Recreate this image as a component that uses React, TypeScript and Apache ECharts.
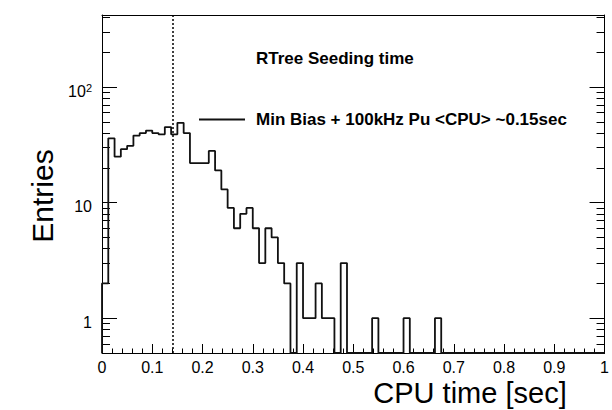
import React, { useEffect, useRef } from 'react';
import * as echarts from 'echarts';

// Histogram: 80 bins of 0.0125 sec on [0, 1]
const BIN_WIDTH = 0.0125;
const COUNTS = [
  2, 36, 25, 29, 31, 38, 40, 42, 40, 39,
  45, 39, 49, 40, 22, 22, 22, 28, 19, 13,
  9, 6, 8, 9, 6, 3, 6, 5, 3, 2,
  0, 3, 1, 1, 2, 1, 1, 0, 3, 0,
  0, 0, 0, 1, 0, 0, 0, 0, 1, 0,
  0, 0, 0, 1, 0, 0, 0, 0, 0, 0,
  0, 0, 0, 0, 0, 0, 0, 0, 0, 0,
  0, 0, 0, 0, 0, 0, 0, 0, 0, 0,
];
const MEAN_MARK = 0.142;
const Y_MIN = 0.5;
const Y_MAX = 420;
const Y_MAJOR = [1, 10, 100];
const Y_MINOR = [0.6, 0.7, 0.8, 0.9, 2, 3, 4, 5, 6, 7, 8, 9, 20, 30, 40, 50, 60, 70, 80, 90, 200, 300, 400];
const TITLE = 'RTree Seeding time';
const SERIES_NAME = 'Min Bias + 100kHz Pu <CPU> ~0.15sec';
const X_NAME = 'CPU time [sec]';
const Y_NAME = 'Entries';

const FONT = '"Liberation Sans", Arial, Helvetica, sans-serif';

export default function App() {
  const ref = useRef<HTMLDivElement>(null);
  useEffect(() => {
    document.body.style.margin = '0';
    const chart = echarts.init(ref.current!, null, { renderer: 'svg' });
    const hist: [number, number][] = [[0, Y_MIN]];
    COUNTS.forEach((c, i) => hist.push([i * BIN_WIDTH, c > 0 ? c : Y_MIN]));
    const last = COUNTS[COUNTS.length - 1];
    hist.push([COUNTS.length * BIN_WIDTH, last > 0 ? last : Y_MIN]);

    const yBase = (pos: 'left' | 'right', values: number[], len: number, labels: boolean, line: boolean) => ({
      type: 'log',
      logBase: 10,
      min: Y_MIN,
      max: Y_MAX,
      position: pos,
      axisLine: { show: line, onZero: false, lineStyle: { color: '#000', width: 1 } },
      axisTick: { show: true, inside: true, length: len, customValues: values, lineStyle: { color: '#000', width: 1 } },
      axisLabel: labels
        ? {
            show: true,
            customValues: values,
            margin: 10,
            color: '#000',
            fontFamily: FONT,
            fontSize: 16,
            padding: [8, 0, 0, 0],
            formatter: (v: number) => {
              const e = Math.round(Math.log10(v));
              return e >= 2 ? '{a|10}{s|' + e + '}' : '{a|' + Math.round(v) + '}';
            },
            rich: {
              a: { fontFamily: FONT, fontSize: 16, color: '#000', lineHeight: 18 },
              s: { fontFamily: FONT, fontSize: 11, color: '#000', verticalAlign: 'top', lineHeight: 18, padding: [0, 0, 6, 0] },
            },
          }
        : { show: false },
      splitLine: { show: false },
      minorTick: { show: false },
      minorSplitLine: { show: false },
    });

    chart.setOption({
      animation: false,
      backgroundColor: '#fff',
      grid: { left: 102, right: 6, top: 15, bottom: 57 },
      title: {
        text: TITLE,
        left: 256,
        top: 50,
        padding: 0,
        textStyle: { fontFamily: FONT, fontWeight: 'bold', fontSize: 17, color: '#000' },
      },
      legend: {
        data: [SERIES_NAME],
        left: 199,
        top: 111,
        padding: 0,
        itemWidth: 46,
        itemHeight: 2,
        icon: 'rect',
        textStyle: { fontFamily: FONT, fontWeight: 'bold', fontSize: 17, color: '#000', padding: [0, 0, 0, 6] },
      },
      graphic: [
        {
          type: 'text',
          x: 470,
          y: 393,
          style: { text: X_NAME, font: '29px "Liberation Sans", Arial, sans-serif', fill: '#000', align: 'center', verticalAlign: 'middle' },
        },
        {
          type: 'text',
          x: 42,
          y: 196,
          rotation: Math.PI / 2,
          style: { text: Y_NAME, font: '30px "Liberation Sans", Arial, sans-serif', fill: '#000', align: 'center', verticalAlign: 'middle' },
        },
      ],
      xAxis: [
        {
          type: 'value',
          min: 0,
          max: 1,
          interval: 0.1,
          position: 'bottom',
          axisLine: { show: true, onZero: false, lineStyle: { color: '#000', width: 1 } },
          axisTick: { show: true, inside: true, length: 9, lineStyle: { color: '#000', width: 1 } },
          minorTick: { show: true, splitNumber: 5, length: 4.5, lineStyle: { color: '#000', width: 1 } },
          axisLabel: { margin: 6, color: '#000', fontFamily: FONT, fontSize: 16 },
          splitLine: { show: false },
        },
        {
          type: 'value',
          min: 0,
          max: 1,
          interval: 0.1,
          position: 'top',
          axisLine: { show: true, onZero: false, lineStyle: { color: '#000', width: 1 } },
          axisTick: { show: false },
          axisLabel: { show: false },
          splitLine: { show: false },
        },
      ],
      yAxis: [
        yBase('left', Y_MAJOR, 15, true, true),
        yBase('left', Y_MINOR, 8, false, false),
        yBase('right', Y_MAJOR, 15, false, true),
        yBase('right', Y_MINOR, 8, false, false),
      ],
      series: [
        {
          name: SERIES_NAME,
          type: 'line',
          step: 'end',
          xAxisIndex: 0,
          yAxisIndex: 0,
          data: hist,
          symbol: 'none',
          lineStyle: { color: '#111', width: 1.8 },
          itemStyle: { color: '#111' },
          markLine: {
            silent: true,
            symbol: ['none', 'none'],
            label: { show: false },
            lineStyle: { type: [2, 2], color: '#000', width: 1.5 },
            data: [{ xAxis: MEAN_MARK }],
          },
        },
      ],
    });
    return () => chart.dispose();
  }, []);
  return <div ref={ref} style={{ width: 612, height: 410 }} />;
}
